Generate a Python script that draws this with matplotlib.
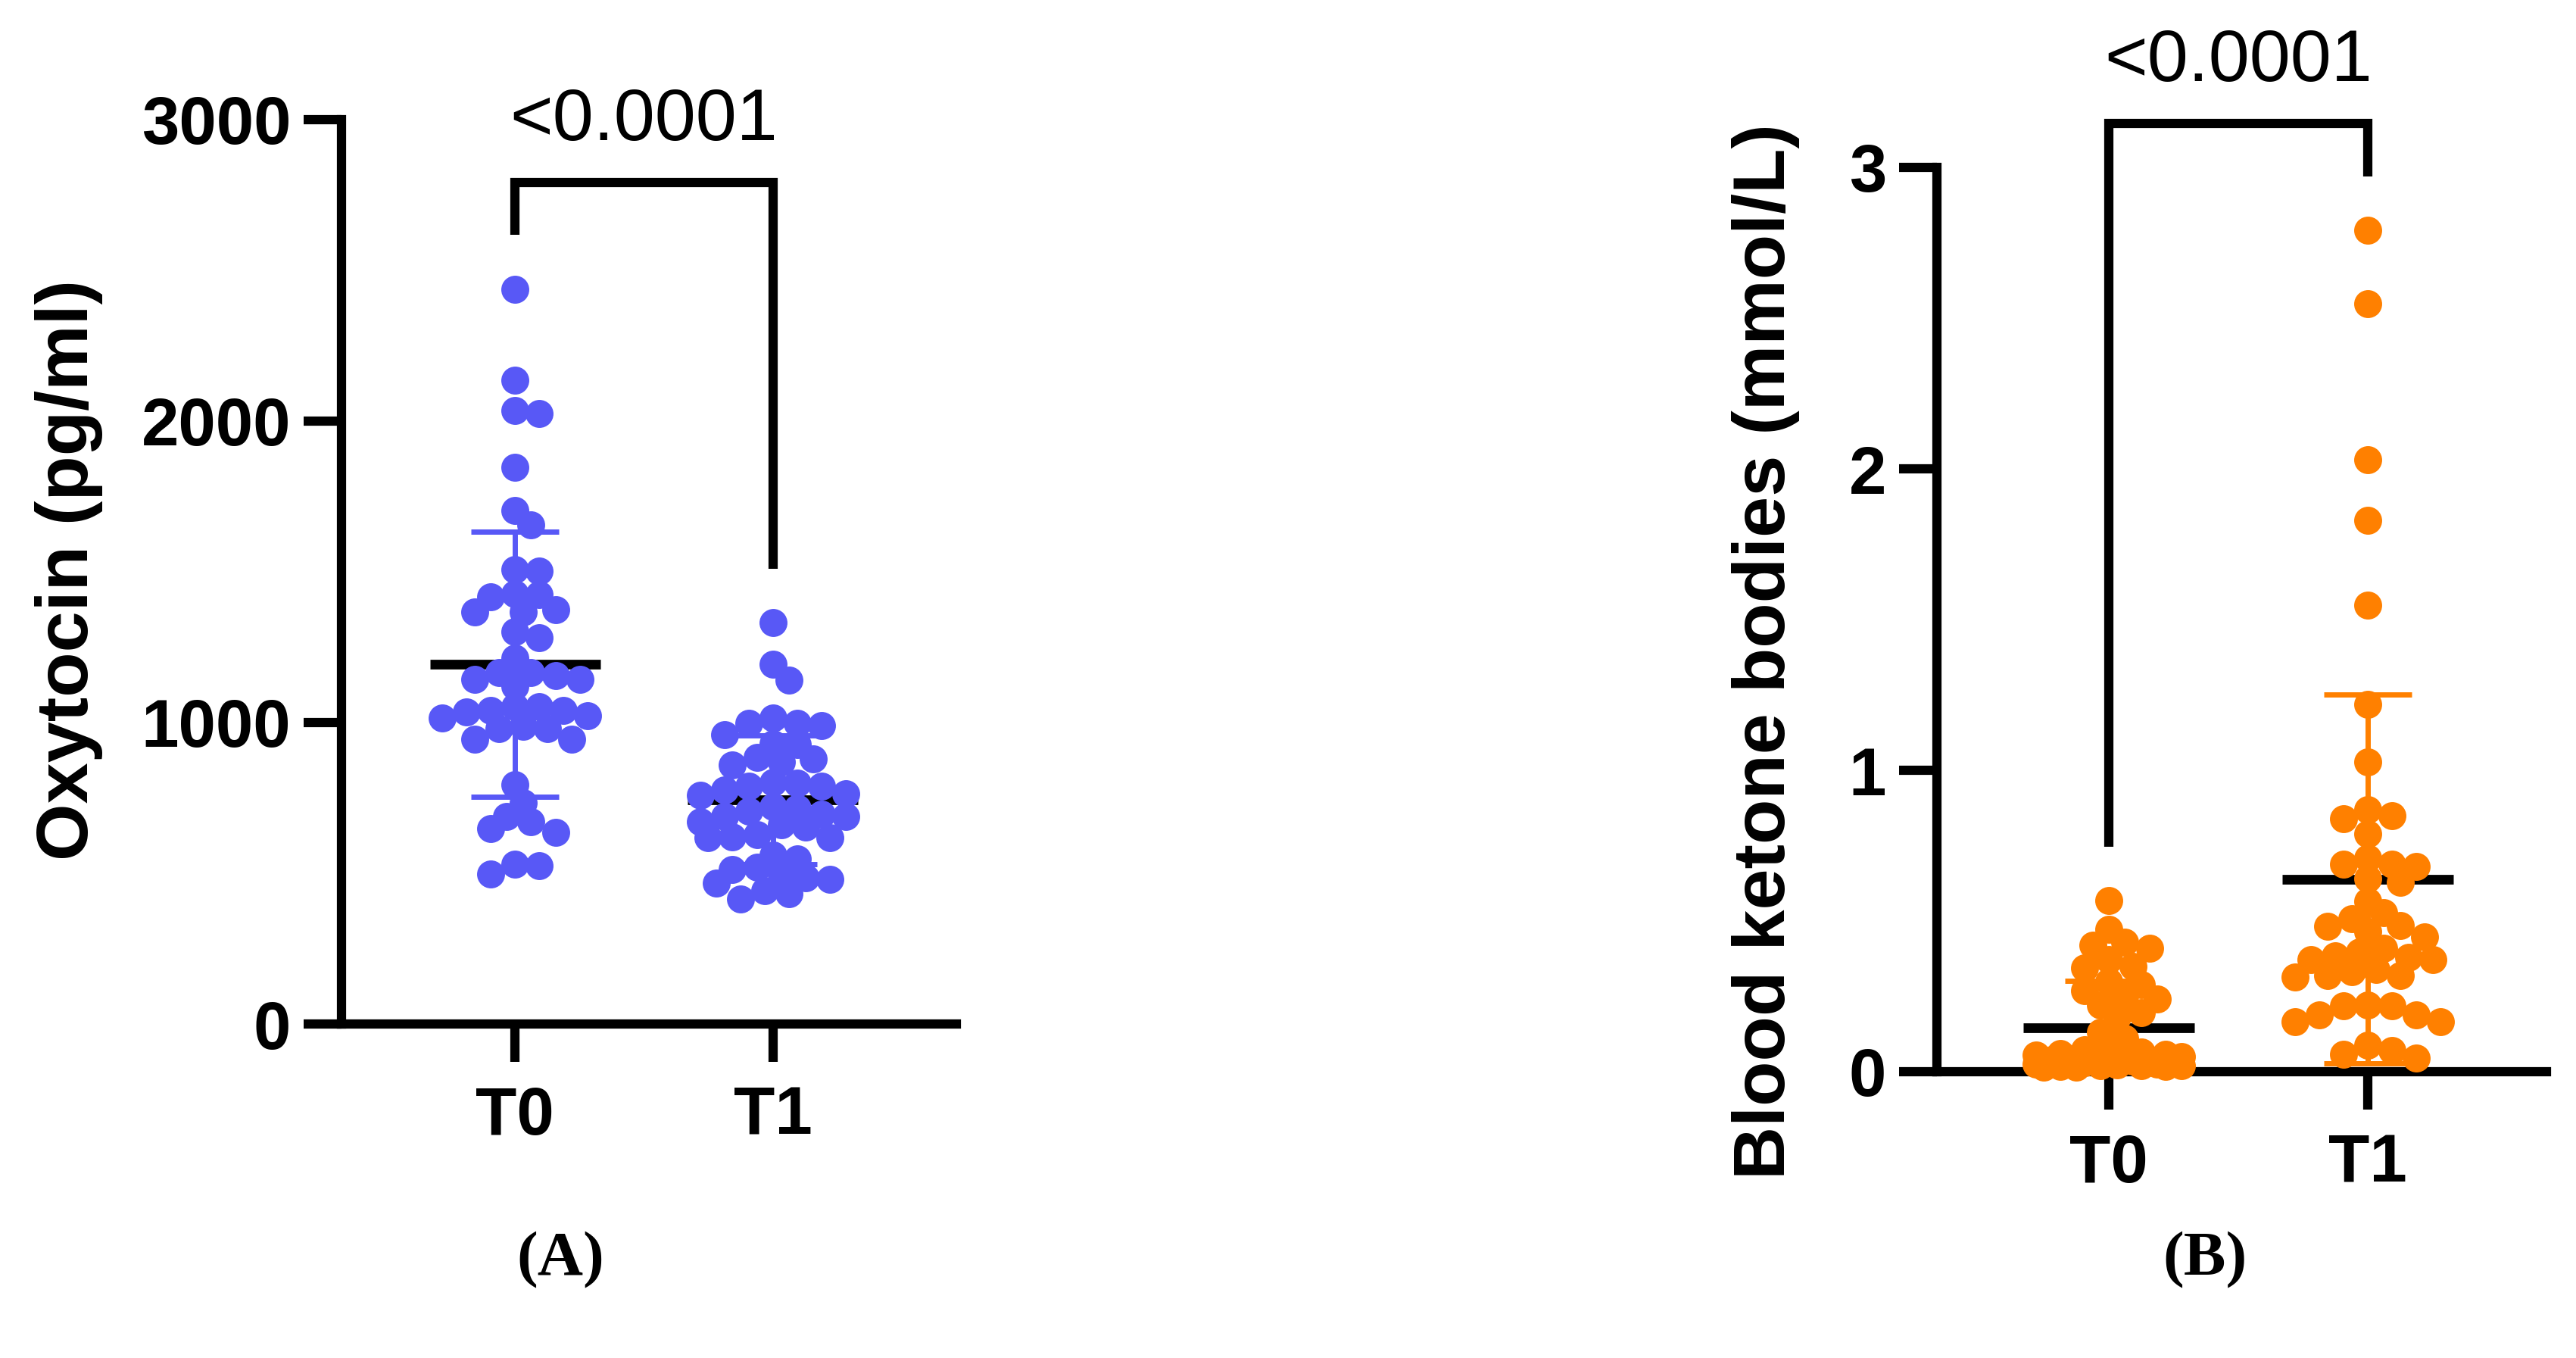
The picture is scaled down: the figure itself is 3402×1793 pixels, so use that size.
import numpy as np
import matplotlib
matplotlib.use("Agg")
from matplotlib import pyplot as plt

# ---- data ----
groups = ["T0", "T1"]

oxytocin_t0 = [2437, 2136, 2035, 2026, 1847, 1704, 1657, 1502, 1507, 1424,
               1428, 1416, 1366, 1375, 1366, 1282, 1301, 1213, 1143, 1155,
               1167, 1167, 1143, 1120, 1053, 1035, 1041, 1053, 1023, 1014,
               1039, 979, 988, 944, 944, 979, 794, 733, 689, 671,
               648, 636, 530, 525, 498]
oxytocin_t1 = [1331, 1193, 1141, 1014, 997, 997, 990, 960, 930, 926,
               884, 880, 870, 859, 802, 800, 790, 788, 776, 764,
               759, 720, 715, 706, 697, 688, 688, 671, 662, 653,
               627, 621, 618, 618, 560, 547, 521, 512, 495, 486,
               468, 442, 433, 415, 480]

ketone_t0 = [0.567, 0.473, 0.430, 0.419, 0.410, 0.372, 0.350, 0.344, 0.300,
             0.289, 0.270, 0.251, 0.240, 0.222, 0.197, 0.180, 0.130, 0.110,
             0.072, 0.068, 0.065, 0.061, 0.058, 0.055, 0.052, 0.049, 0.047,
             0.044, 0.041, 0.039, 0.036, 0.034, 0.032, 0.030, 0.028, 0.026,
             0.024, 0.023, 0.021, 0.020, 0.019, 0.018, 0.017, 0.016, 0.015]
ketone_t1 = [2.791, 2.547, 2.029, 1.829, 1.548, 1.219,
             1.027, 0.839, 0.849, 0.869, 0.788, 0.688, 0.680, 0.709, 0.688,
             0.640, 0.628, 0.565, 0.508, 0.464, 0.482, 0.527, 0.485, 0.448,
             0.379, 0.410, 0.372, 0.385, 0.397, 0.372, 0.339, 0.318, 0.314,
             0.331, 0.318, 0.167, 0.188, 0.218, 0.167, 0.218, 0.222, 0.188,
             0.088, 0.046, 0.059, 0.071]

oxy_ticks = [0, 1000, 2000, 3000]
ket_ticks = [0, 1, 2, 3]
p_label = "<0.0001"

BLUE = "#5858F6"
ORANGE = "#FF8000"

DPI = 200
W, H = 3402, 1793
LW = 4.4

plt.rcParams['font.family'] = ['Liberation Sans', 'DejaVu Sans']


def swarm_offsets(ax, xpos, values, min_dist=26.0, step=10.7, max_off=97.0):
    """beeswarm in display pixels, width capped at max_off; returns data offsets"""
    x0 = ax.transData.transform((0, 0))[0]
    x1 = ax.transData.transform((1, 0))[0]
    px_per_unit = x1 - x0
    ypx = np.array([ax.transData.transform((xpos, v))[1] for v in values])
    nsteps = int(max_off // step)
    cands = [0.0]
    for k in range(1, nsteps + 1):
        cands += [k * step, -k * step]
    order = np.argsort(values)[::-1]
    placed = []
    offs = np.zeros(len(values))
    for i in order:
        y = ypx[i]
        best, best_d = 0.0, -1.0
        for c in cands:
            if placed:
                d = min(np.hypot(c - px, y - py) for px, py in placed)
            else:
                d = np.inf
            if d >= min_dist:
                best = c
                break
            if d > best_d + 1e-6:
                best, best_d = c, d
        placed.append((best, y))
        offs[i] = best / px_per_unit
    return offs


def panel(fig, rect, xlim, ylim, ticks, data, color, ylabel, ylab_xy):
    ax = fig.add_axes(rect)
    ax.set_xlim(*xlim)
    ax.set_ylim(*ylim)
    ax.spines['top'].set_visible(False)
    ax.spines['right'].set_visible(False)
    for s in ('left', 'bottom'):
        ax.spines[s].set_linewidth(LW)
        ax.spines[s].set_capstyle('projecting')
    ax.set_yticks(ticks)
    ax.set_yticklabels([str(t) for t in ticks])
    ax.set_xticks([0, 1])
    ax.set_xticklabels(groups)
    ax.tick_params(axis='both', direction='out', length=18, width=LW, labelsize=32)
    ax.tick_params(axis='y', pad=6)
    ax.tick_params(axis='x', pad=11)
    for lab in ax.get_xticklabels() + ax.get_yticklabels():
        lab.set_fontweight('bold')

    span = ylim[1] - ylim[0]
    for xi, vals in enumerate(data):
        vals = np.asarray(vals, dtype=float)
        m = vals.mean()
        sd = vals.std(ddof=1)
        # mean line
        ax.hlines(m, xi - 0.33, xi + 0.33, color='black', lw=4.6, zorder=2)
        # SD bar
        ax.vlines(xi, max(m - sd, ylim[0]), m + sd, color=color, lw=2.5, zorder=2)
        ax.hlines([m + sd], xi - 0.17, xi + 0.17, color=color, lw=2.5, zorder=2)
        if m - sd > ylim[0]:
            ax.hlines([m - sd], xi - 0.17, xi + 0.17, color=color, lw=2.5, zorder=2)
        offs = swarm_offsets(ax, xi, vals)
        ax.plot(xi + offs, vals, 'o', color=color, markersize=13.3,
                markeredgewidth=0, zorder=4, clip_on=False)

    # significance bracket
    top = max(max(d) for d in data) + 0.118 * span
    legs = [max(d) + 0.06 * span for d in data]
    ax.plot([0, 0, 1, 1], [legs[0], top, top, legs[1]], color='black', lw=LW,
            clip_on=False, solid_joinstyle='miter', solid_capstyle='butt')
    ax.text(0.5, top + 0.047 * span, p_label, ha='center', va='baseline',
            fontsize=35, clip_on=False)

    fig.text(ylab_xy[0] / W, 1 - ylab_xy[1] / H, ylabel, rotation=90,
             ha='center', va='center', fontsize=35, fontweight='bold')
    return ax


fig = plt.figure(figsize=(W / DPI, H / DPI), dpi=DPI)
fig.patch.set_facecolor('white')

panel(fig, [451 / W, 1 - 1352 / H, (1263 - 451) / W, (1352 - 158) / H],
      (-0.672, 1.710), (0, 3000), oxy_ticks, [oxytocin_t0, oxytocin_t1],
      BLUE, "Oxytocin (pg/ml)", (91, 753))

panel(fig, [2558 / W, 1 - 1415 / H, (3363 - 2558) / W, (1415 - 221) / H],
      (-0.664, 1.690), (0, 3), ket_ticks, [ketone_t0, ketone_t1],
      ORANGE, "Blood ketone bodies (mmol/L)", (2332, 860))

for x, lab in [(740, "(A)"), (2912, "(B)")]:
    fig.text(x / W, 1 - 1664 / H, lab, ha='center', va='center', fontsize=30,
             fontweight='bold', family=['Liberation Serif', 'DejaVu Serif'])

fig.savefig("out.png", dpi=DPI, facecolor='white')
